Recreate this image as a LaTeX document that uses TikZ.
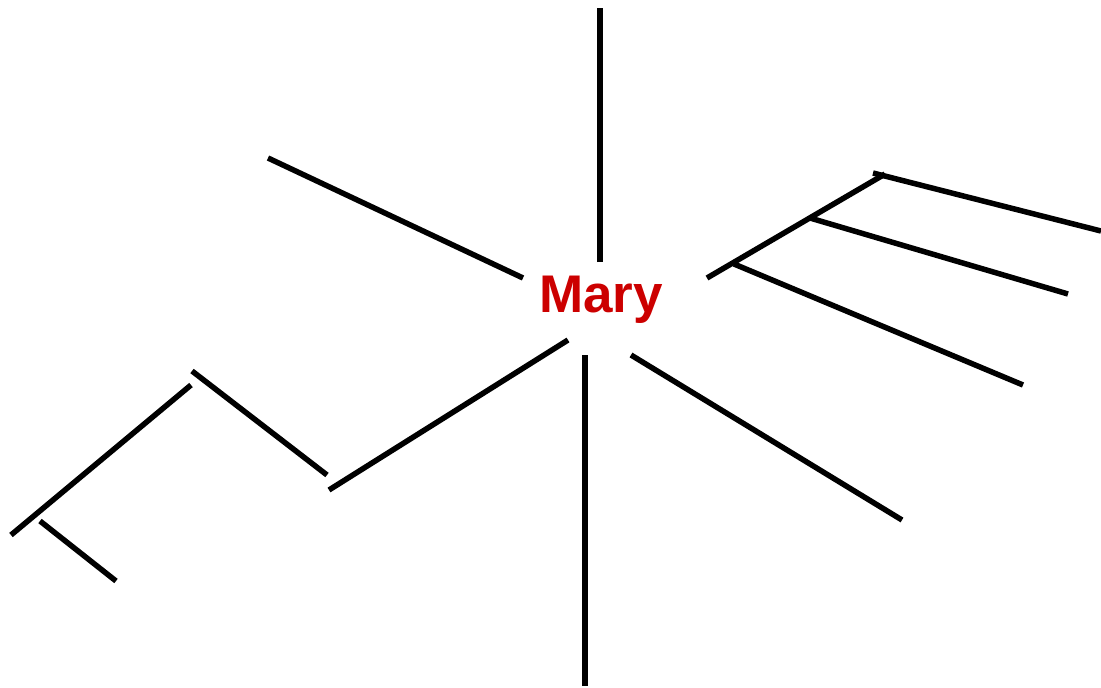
\documentclass[tikz,border=0pt]{standalone}
\usepackage{fontspec}
\setmainfont{Liberation Sans}
\usetikzlibrary{positioning}
\definecolor{maryred}{HTML}{CC0000}

\begin{document}
\begin{tikzpicture}[
  x=1pt,y=-1pt,
  centre/.style={font=\fontsize{53}{60}\selectfont\bfseries,text=maryred,inner sep=0pt,anchor=base},
  branch/.style={line width=5.5pt,black}
]
\useasboundingbox (0,0) rectangle (1101,688);
\node[centre] (mary) at (601,312) {Mary};
% ends of the branches
\coordinate (topA) at (600,262);   \coordinate (topB) at (600,8);
\coordinate (ulA) at (523,278);    \coordinate (ulB) at (268,158);
\coordinate (spineA) at (707,278); \coordinate (spineB) at (885,174);
\coordinate (r1A) at (873,173);    \coordinate (r1B) at (1101,231);
\coordinate (r2A) at (810,218);    \coordinate (r2B) at (1068,294);
\coordinate (r3A) at (734,264);    \coordinate (r3B) at (1023,385);
\coordinate (lrA) at (631,355);    \coordinate (lrB) at (902,520);
\coordinate (botA) at (585,355);   \coordinate (botB) at (585,686);
\coordinate (llA) at (568,340);    \coordinate (llB) at (329,490);
\coordinate (l2A) at (327,475);    \coordinate (l2B) at (192,371);
\coordinate (l3A) at (191,385);    \coordinate (l3B) at (11,535);
\coordinate (l4A) at (40,521);     \coordinate (l4B) at (116,581);
\foreach \a/\b in {topA/topB,ulA/ulB,spineA/spineB,r1A/r1B,r2A/r2B,r3A/r3B,
                   lrA/lrB,botA/botB,llA/llB,l2A/l2B,l3A/l3B,l4A/l4B}
  \draw[branch] (\a)--(\b);
\end{tikzpicture}
\end{document}
